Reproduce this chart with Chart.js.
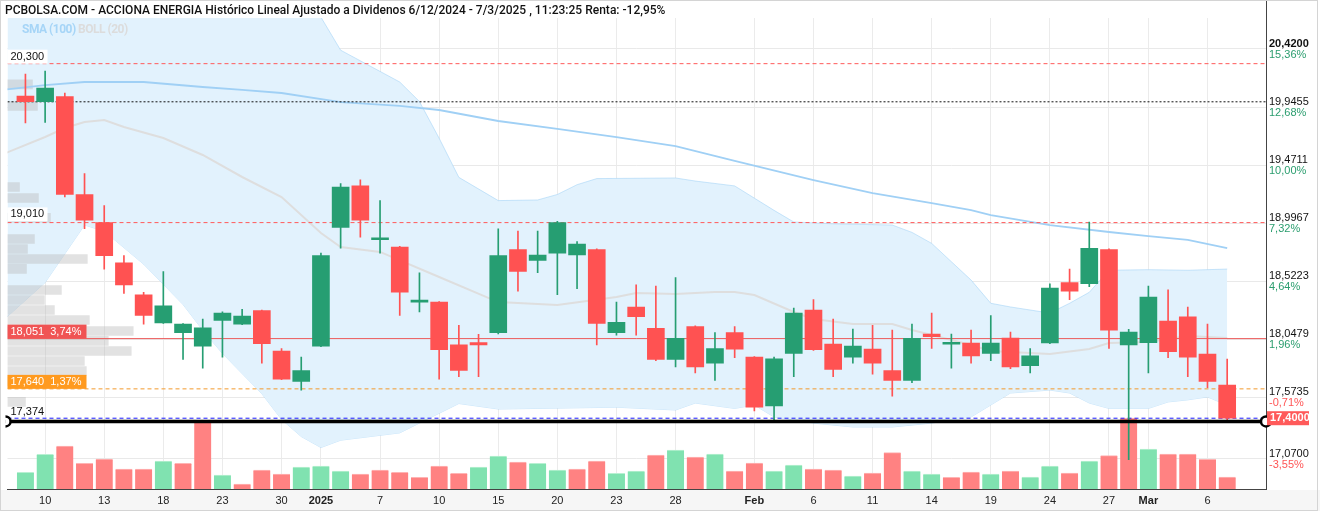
<!DOCTYPE html>
<html>
<head>
<meta charset="utf-8">
<script src="https://cdn.jsdelivr.net/npm/chart.js@4.4.1/dist/chart.umd.min.js"></script>
<style>
  body { margin: 0; background: #fff; }
  #wrap { position: relative; width: 1320px; height: 512px; }
  #title { position: absolute; left: 5px; top: 3px; font: 500 12px Roboto, sans-serif; color: #111; white-space: nowrap; }
  #legend { position: absolute; left: 22px; top: 22px; font: bold 12px Roboto, sans-serif; letter-spacing: -0.5px; }
</style>
</head>
<body>
<div id="wrap">
  <canvas id="chart" width="1320" height="512"></canvas>
  <div id="title">PCBOLSA.COM - ACCIONA ENERGIA Histórico Lineal Ajustado a Dividenos 6/12/2024 - 7/3/2025 , 11:23:25 Renta: -12,95%</div>
  <div id="legend"><span style="color:#a6d5f7">SMA (100)</span> <span style="color:#dcdcdc">BOLL (20)</span></div>
</div>
<script>
// trading days
const dates = ['2024-12-09','2024-12-10','2024-12-11','2024-12-12','2024-12-13','2024-12-16','2024-12-17','2024-12-18','2024-12-19','2024-12-20',
  '2024-12-23','2024-12-24','2024-12-27','2024-12-30','2024-12-31','2025-01-02','2025-01-03','2025-01-06','2025-01-07','2025-01-08',
  '2025-01-09','2025-01-10','2025-01-13','2025-01-14','2025-01-15','2025-01-16','2025-01-17','2025-01-20','2025-01-21','2025-01-22',
  '2025-01-23','2025-01-24','2025-01-27','2025-01-28','2025-01-29','2025-01-30','2025-01-31','2025-02-03','2025-02-04','2025-02-05',
  '2025-02-06','2025-02-07','2025-02-10','2025-02-11','2025-02-12','2025-02-13','2025-02-14','2025-02-17','2025-02-18','2025-02-19',
  '2025-02-20','2025-02-21','2025-02-24','2025-02-25','2025-02-26','2025-02-27','2025-02-28','2025-03-03','2025-03-04','2025-03-05',
  '2025-03-06','2025-03-07'];

const opens = [20.035,19.99,20.03,19.23,19.00,18.67,18.41,18.18,18.10,17.99, 18.20,18.17,18.28,17.95,17.70,17.99,18.96,19.30,18.86,18.80,
  18.35,18.35,18.00,18.018,18.10,18.78,18.69,18.75,18.735,18.78, 18.10,18.31,18.135,17.88,18.15,17.85,18.10,17.90,17.50,17.93,
  18.285,18.007,17.90,17.966,17.79,17.71,18.089,18.005,18.015,17.93, 18.056,17.83,18.015,18.51,18.50,18.78,18.00,18.018,18.195,18.23,
  17.925,17.67];
const highs = [20.215,20.24,20.06,19.40,19.14,18.73,18.43,18.60,18.175,18.21, 18.27,18.29,18.285,17.97,17.90,18.75,19.32,19.35,19.18,18.805,
  18.59,18.355,18.16,18.086,18.95,18.93,18.93,19.01,18.845,18.785, 18.35,18.49,18.48,18.55,18.155,18.10,18.15,17.905,17.90,18.30,
  18.37,18.21,18.13,18.16,18.12,18.17,18.26,18.089,18.12,18.24, 18.105,17.97,18.50,18.62,19.005,18.785,18.127,18.48,18.45,18.31,
  18.17,17.884];
const lows = [19.815,19.82,19.21,18.95,18.62,18.42,18.17,18.175,17.88,17.81, 17.90,18.165,17.85,17.715,17.63,17.985,18.79,18.88,18.75,18.24,
  18.27,17.72,17.74,17.74,18.09,18.44,18.59,18.41,18.46,18.00, 18.08,18.08,17.87,17.82,17.77,17.71,17.895,17.46,17.38,17.74,
  17.955,17.74,17.85,17.76,17.58,17.69,17.97,17.81,17.85,17.87, 17.805,17.77,18.01,18.37,18.475,17.97,17.06,17.77,17.895,17.74,
  17.65,17.38];
const closes = [19.99,20.10,19.23,19.02,18.73,18.49,18.24,18.32,18.17,18.14, 18.26,18.236,18.01,17.72,17.79,18.73,19.29,19.02,18.87,18.43,
  18.355,17.96,17.79,18.00,18.73,18.60,18.735,19.00,18.825,18.175, 18.185,18.23,17.88,18.054,17.82,17.97,17.965,17.49,17.885,18.26,
  17.96,17.80,17.99,17.85,17.71,18.054,18.067,18.015,17.91,18.015, 17.82,17.91,18.465,18.44,18.79,18.12,18.105,18.39,17.944,17.90,
  17.70,17.40];
// volume, thousands of shares
const volumes = [167,347,430,257,300,200,200,280,257,670, 140,50,190,150,220,230,180,150,190,167,
  117,230,157,220,330,270,257,190,200,280, 157,180,340,390,320,350,180,260,180,240,
  200,190,130,160,363,180,150,117,170,150, 180,120,230,160,280,333,710,400,350,350,
  297,120];

// indicators (index of day, price)
const smaX = [-1,1,3,6,9,11,13,16,19,21,24,27,30,33,36,40,43,46,48,49,52,55,57,59,61];
const smaY = [20.089,20.125,20.150,20.150,20.109,20.085,20.060,19.986,19.954,19.921,19.831,19.766,19.700,19.626,19.504,19.348,19.242,19.160,19.103,19.062,18.980,18.923,18.890,18.858,18.792];
const bollUpX = [-1,5,10,13,15,16,19,20,21,22,24,26,27,28,29,33,34,36,38,39,41,44,45,46,47,48,49,50,52,53,54,55,57,59,61];
const bollUpY = [20.80,20.90,20.85,20.75,20.68,20.41,20.15,19.99,19.69,19.37,19.18,19.185,19.23,19.31,19.36,19.365,19.34,19.30,19.10,19.005,18.99,18.98,18.92,18.83,18.68,18.53,18.34,18.31,18.26,18.34,18.43,18.61,18.615,18.61,18.62];
const bollMidX = [-1,1,2,3,4,5,7,9,11,13,15,16,18,21,24,27,30,31,33,35,36,37,39,40,42,44,45,47,48,49,52,54,55,57,59,61];
const bollMidY = [19.569,19.700,19.774,19.823,19.839,19.782,19.692,19.553,19.373,19.209,18.915,18.800,18.760,18.555,18.350,18.326,18.391,18.424,18.416,18.432,18.432,18.408,18.269,18.212,18.171,18.171,18.122,18.040,17.999,17.950,17.925,17.966,18.015,18.023,18.072,18.056];
const bollLowX = [-1,1,3,4,6,8,9,10,12,13,14,15,16,19,20,22,24,30,33,34,36,37,38,40,42,44,46,48,49,50,52,53,54,55,57,58,59,60,61];
const bollLowY = [18.22,18.51,18.98,18.93,18.66,18.33,18.12,17.93,17.60,17.39,17.25,17.16,17.22,17.28,17.36,17.52,17.475,17.49,17.467,17.524,17.48,17.508,17.41,17.36,17.328,17.328,17.36,17.41,17.508,17.606,17.63,17.606,17.524,17.48,17.48,17.533,17.55,17.574,17.508];

// volume at price (left histogram)
const profilePrice = [20.130,19.954,19.291,19.201,19.038,18.866,18.784,18.702,18.621,18.449,18.367,18.285,18.203,18.113,18.032,17.950,17.868,17.786,17.704,17.533];
const profileSize = [25,30,12,31,43,27,20,80,19,54,37,47,82,126,101,124,77,79,78,18];

// price axis
const yTicks = [20.42, 19.9455, 19.4711, 18.9967, 18.5223, 18.0479, 17.5735, 17.07];
const yPct = ['15,36%','12,68%','10,00%','7,32%','4,64%','1,96%','-0,71%','-3,55%'];
const xTickIdx = [1,4,7,10,13,15,18,21,24,27,30,33,37,40,43,46,49,52,55,57,60];
const monthNames = ['Jan','Feb','Mar','Apr','May','Jun','Jul','Aug','Sep','Oct','Nov','Dec'];

// levels
const lvlHigh = 20.3, lvlRef = 19.988, lvlMid = 19.0, lvlAvg = 18.051, lvlOrange = 17.64, lvlLast = 17.40, lvlLow = 17.374;

const X_MIN = -0.91, X_MAX = 62.97;
const GREEN = '#269e72', RED = '#ff5252';
const VGREEN = '#80e2b0', VRED = '#ff8282';
const FONT = '"Liberation Sans", Arial, sans-serif';

function xLabel(i) {
  const d = dates[i], prev = dates[i - 1];
  if (!d) return '';
  if (prev && prev.slice(0, 4) !== d.slice(0, 4)) return d.slice(0, 4);
  if (prev && prev.slice(5, 7) !== d.slice(5, 7)) return monthNames[+d.slice(5, 7) - 1];
  return String(+d.slice(8, 10));
}
const isBoldX = i => xLabel(i).length >= 3;
const fmt = (v, d) => v.toFixed(d).replace('.', ',');
const pairs = (xs, ys) => xs.map((x, k) => ({ x, y: ys[k] }));
const hline = (v, color, dash, width, order) => ({
  type: 'line', data: [{ x: X_MIN, y: v }, { x: X_MAX, y: v }],
  borderColor: color, borderWidth: width, borderDash: dash, pointRadius: 0, order
});

const datasets = [
  { type: 'line', data: pairs(bollUpX, bollUpY), borderColor: 'rgba(160,210,245,0.55)', borderWidth: 1,
    backgroundColor: '#e2f2fd', fill: '+1', pointRadius: 0, order: 20 },
  { type: 'line', data: pairs(bollLowX, bollLowY), borderColor: 'rgba(160,210,245,0.55)', borderWidth: 1,
    pointRadius: 0, fill: false, order: 20 },
  { type: 'bar', indexAxis: 'y', xAxisID: 'xp', yAxisID: 'y',
    data: profilePrice.map((p, k) => ({ x: profileSize[k], y: p })),
    backgroundColor: 'rgba(185,185,185,0.42)', barThickness: 9, grouped: false, order: 19 },
  { type: 'line', data: pairs(bollMidX, bollMidY), borderColor: '#dedede', borderWidth: 2, pointRadius: 0, order: 18 },
  { type: 'line', data: pairs(smaX, smaY), borderColor: '#a0d0f5', borderWidth: 1.8, pointRadius: 0, order: 18 },
  { type: 'bar', yAxisID: 'yv', data: volumes.map((v, i) => ({ x: i, y: v })),
    backgroundColor: volumes.map((v, i) => (i === 0 || closes[i] >= closes[i - 1]) ? VGREEN : VRED),
    borderColor: volumes.map((v, i) => (i === 0 || closes[i] >= closes[i - 1]) ? '#b8f0d2' : '#ffb4b4'),
    borderWidth: { top: 1, left: 0, right: 0, bottom: 0 }, borderSkipped: 'start',
    barThickness: 17, grouped: false, order: 17 },
  hline(lvlHigh, '#ff5a5a', [4, 3], 1, 12),
  hline(lvlRef, '#111', [2, 2], 1, 12),
  hline(lvlMid, '#ff5a5a', [4, 3], 1, 12),
  hline(lvlAvg, '#ec5a5a', [], 1, 12),
  hline(lvlOrange, '#f39a2c', [4, 3], 1, 12),
  hline(lvlLast, '#1a1aff', [4, 3], 1, 12),
  { type: 'bar', data: opens.map((o, i) => ({ x: i, y: [lows[i], highs[i]] })),
    backgroundColor: opens.map((o, i) => closes[i] >= o ? GREEN : RED),
    barThickness: 1, grouped: false, order: 6 },
  { type: 'bar', data: opens.map((o, i) => ({ x: i, y: [o, closes[i]] })),
    backgroundColor: opens.map((o, i) => closes[i] >= o ? GREEN : RED),
    barThickness: 17, minBarLength: 2, grouped: false, order: 5 },
  { type: 'line', data: [{ x: X_MIN - 0.1, y: lvlLow }, { x: X_MAX, y: lvlLow }],
    borderColor: '#000', borderWidth: 3.5, pointRadius: 5, pointBorderWidth: 2.5,
    pointBorderColor: '#000', pointBackgroundColor: '#fff', clip: { left: 2, right: 10, top: 0, bottom: 0 }, order: 1 }
];

const overlay = {
  id: 'overlay',
  beforeDraw(chart) {
    const { ctx, chartArea } = chart;
    ctx.save();
    ctx.fillStyle = '#fff';
    ctx.fillRect(0, 0, chart.width, chart.height);
    ctx.fillStyle = '#f6f6f6';
    ctx.fillRect(0, chartArea.bottom + 1, chart.width, 21);
    ctx.restore();
  },
  afterDraw(chart) {
    const { ctx, chartArea } = chart;
    const y = chart.scales.y;
    ctx.save();
    // frame
    ctx.strokeStyle = '#444';
    ctx.lineWidth = 1;
    ctx.beginPath();
    ctx.moveTo(chartArea.right + 0.5, 0);
    ctx.lineTo(chartArea.right + 0.5, chartArea.top);
    ctx.stroke();
    ctx.strokeStyle = '#d4d4d4';
    ctx.strokeRect(0.5, 0.5, chart.width - 3, 510);

    ctx.font = '11px ' + FONT;
    ctx.textBaseline = 'middle';
    // percent labels on the price axis
    yTicks.forEach((v, k) => {
      ctx.fillStyle = yPct[k].startsWith('-') ? '#ff5555' : '#2a9d6e';
      ctx.fillText(yPct[k], chartArea.right + 3, y.getPixelForValue(v) + 6);
    });
    // left level tags
    const tag = (v, text, bg, fg, w) => {
      const py = y.getPixelForValue(v);
      if (bg) { ctx.fillStyle = bg; ctx.fillRect(chartArea.left, py - 14, w, 14); }
      ctx.fillStyle = fg;
      ctx.fillText(text, chartArea.left + 3, py - 7);
    };
    tag(lvlHigh, fmt(lvlHigh, 3), '#fff', '#111', 40);
    tag(lvlMid + 0.01, fmt(19.010, 3), '#fff', '#111', 40);
    tag(lvlAvg, fmt(lvlAvg, 3) + '  3,74%', '#f05454', '#fff', 79);
    tag(lvlOrange, fmt(lvlOrange, 3) + '  1,37%', '#ff9a1f', '#fff', 79);
    tag(lvlLow + 0.02, fmt(lvlLow, 3), null, '#111', 0);
    // last price tag
    const ly = y.getPixelForValue(lvlLast);
    ctx.fillStyle = '#ff5a5a';
    ctx.fillRect(chartArea.right + 1, ly - 7, 42, 14);
    ctx.fillStyle = '#fff';
    ctx.font = 'bold 11px ' + FONT;
    ctx.fillText(fmt(lvlLast, 4), chartArea.right + 4, ly);
    ctx.restore();
  }
};

new Chart(document.getElementById('chart'), {
  type: 'bar',
  data: { datasets },
  plugins: [overlay],
  options: {
    responsive: false,
    devicePixelRatio: 1,
    animation: false,
    layout: { padding: { left: 5, top: 18, right: 0, bottom: 0 } },
    plugins: { legend: { display: false }, tooltip: { enabled: false } },
    scales: {
      x: {
        type: 'linear', min: X_MIN, max: X_MAX, offset: false,
        afterBuildTicks: s => { s.ticks = xTickIdx.map(v => ({ value: v })); },
        afterFit: s => { s.height = 23; },
        grid: { color: '#ebebeb', drawTicks: false, offset: false },
        border: { color: '#444' },
        ticks: {
          autoSkip: false, maxRotation: 0, padding: 5, color: '#222',
          font: c => ({ family: FONT, size: 11, weight: c && c.tick && isBoldX(c.tick.value) ? 'bold' : 'normal' }),
          callback: v => xLabel(v)
        }
      },
      y: {
        type: 'linear', position: 'right', min: 16.821, max: 20.6735, offset: false, beginAtZero: false,
        afterBuildTicks: s => { s.ticks = yTicks.map(v => ({ value: v })); },
        afterFit: s => { s.width = 54; },
        grid: { color: '#e9e9e9', drawTicks: false, offset: false },
        border: { color: '#444' },
        ticks: {
          padding: 3, labelOffset: -5, color: '#111',
          font: c => ({ family: FONT, size: 11, weight: c && c.tick && c.tick.value === 20.42 ? 'bold' : 'normal' }),
          callback: v => fmt(v, 4)
        }
      },
      yv: { type: 'linear', position: 'left', display: false, min: 0, max: 4710, offset: false },
      xp: { type: 'linear', axis: 'x', position: 'bottom', display: false, min: 0, max: 1261, offset: false }
    }
  }
});

// fit the title to the width it has in the reference
const t = document.getElementById('title');
const extra = 660 - t.offsetWidth;
t.style.letterSpacing = (extra / t.textContent.length).toFixed(3) + 'px';
</script>
</body>
</html>
